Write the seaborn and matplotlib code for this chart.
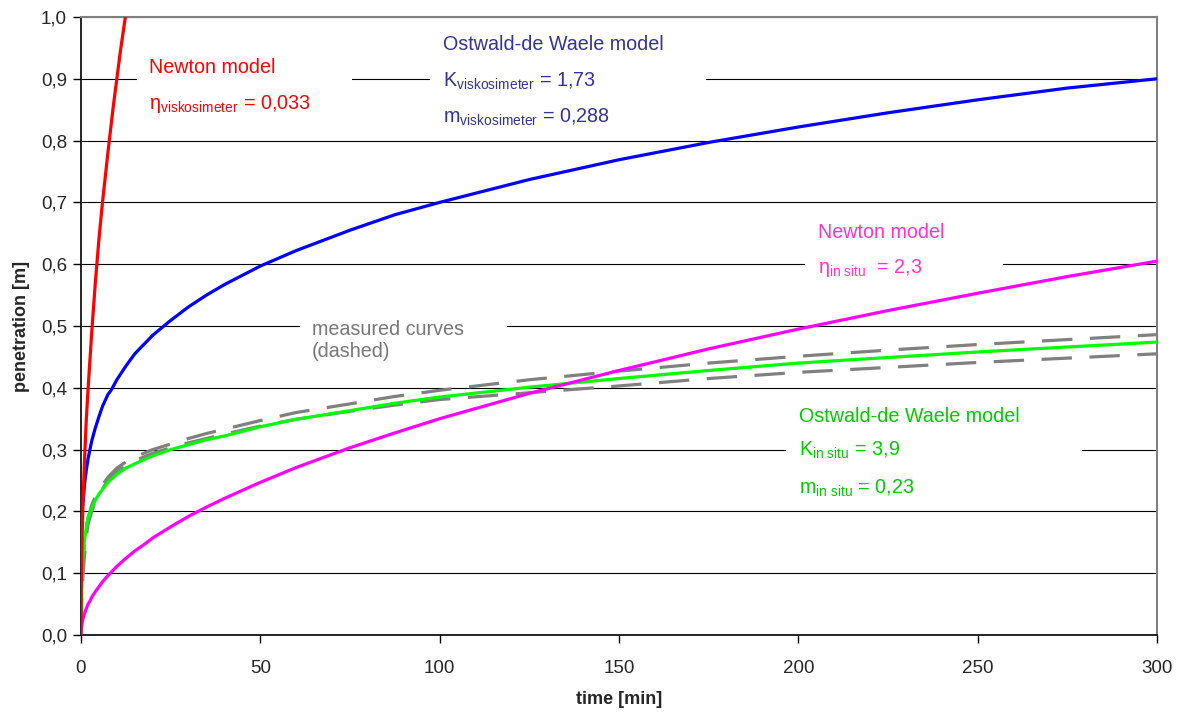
import pandas as pd
import matplotlib
matplotlib.use('Agg')
import matplotlib.pyplot as plt
from matplotlib.patches import Rectangle
from matplotlib.ticker import FuncFormatter
import seaborn as sns

# values
t_newton_visko = [0, 0.05, 0.1, 0.3, 0.6, 1, 1.5, 2, 3, 4, 5, 6, 7.5, 9, 10, 11, 12.5, 13]
y_newton_visko = [0, 0.065, 0.09, 0.155, 0.22, 0.285, 0.35, 0.40, 0.49, 0.57, 0.64, 0.70, 0.78, 0.855,
                  0.90, 0.945, 1.005, 1.03]

t_ostwald_visko = [0.5, 1, 1.5, 2, 2.5, 3, 4, 5, 6, 7.5, 8.5, 10, 12.5, 15, 17.5, 20, 25, 30, 35, 40, 50,
                   60, 75, 87.5, 100, 125, 150, 175, 200, 225, 250, 275, 300]
y_ostwald_visko = [0.21, 0.244, 0.267, 0.286, 0.300, 0.314, 0.335, 0.353, 0.370, 0.389, 0.397, 0.413,
                   0.435, 0.455, 0.470, 0.485, 0.509, 0.531, 0.550, 0.567, 0.597, 0.622, 0.655, 0.680,
                   0.700, 0.737, 0.769, 0.797, 0.822, 0.845, 0.866, 0.885, 0.900]

t_newton_situ = [0, 0.02, 0.1, 0.25, 0.5, 1, 1.5, 2, 2.5, 3, 4, 5, 6, 7.5, 10, 12.5, 15, 17.5, 20, 25, 30,
                 35, 40, 50, 60, 75, 87.5, 100, 125, 150, 175, 200, 225, 250, 275, 300]
y_newton_situ = [0, 0.005, 0.011, 0.017, 0.025, 0.035, 0.043, 0.05, 0.055, 0.061, 0.07, 0.078, 0.086,
                 0.096, 0.111, 0.124, 0.136, 0.146, 0.157, 0.175, 0.192, 0.207, 0.221, 0.247, 0.271,
                 0.303, 0.327, 0.35, 0.391, 0.428, 0.463, 0.495, 0.525, 0.553, 0.58, 0.605]

t_meas = [0.05, 0.1, 0.3, 0.6, 1, 1.5, 2, 3, 4, 5, 7.5, 10, 12.5, 15, 20, 25, 30, 35, 40, 50, 60, 75,
          87.5, 100, 125, 150, 175, 200, 225, 250, 275, 300]
y_ostwald_situ = [0.03, 0.06, 0.10, 0.13, 0.155, 0.175, 0.19, 0.205, 0.218, 0.228, 0.247, 0.26, 0.27,
                  0.277, 0.29, 0.30, 0.308, 0.316, 0.322, 0.337, 0.349, 0.363, 0.375, 0.385, 0.401,
                  0.415, 0.428, 0.44, 0.449, 0.458, 0.466, 0.474]
y_meas_upper = [0.02, 0.05, 0.09, 0.12, 0.15, 0.175, 0.19, 0.21, 0.224, 0.235, 0.255, 0.27, 0.28, 0.288,
                0.30, 0.309, 0.318, 0.326, 0.333, 0.347, 0.360, 0.374, 0.386, 0.396, 0.413, 0.427,
                0.440, 0.451, 0.461, 0.470, 0.478, 0.486]
y_meas_lower = [0.01, 0.03, 0.07, 0.10, 0.13, 0.16, 0.18, 0.20, 0.216, 0.228, 0.25, 0.265, 0.274, 0.282,
                0.294, 0.303, 0.311, 0.318, 0.325, 0.338, 0.349, 0.362, 0.372, 0.381, 0.392, 0.403,
                0.415, 0.425, 0.433, 0.441, 0.448, 0.455]

x_ticks = [0, 50, 100, 150, 200, 250, 300]
y_ticks = [0.0, 0.1, 0.2, 0.3, 0.4, 0.5, 0.6, 0.7, 0.8, 0.9, 1.0]

sns.set_style('white')
plt.rcParams['font.family'] = ['Liberation Sans', 'DejaVu Sans']
plt.rcParams['mathtext.fontset'] = 'custom'
plt.rcParams['mathtext.rm'] = 'Liberation Sans'
plt.rcParams['mathtext.it'] = 'Liberation Sans:italic'
plt.rcParams['mathtext.bf'] = 'Liberation Sans:bold'

fig = plt.figure(figsize=(11.82, 7.13), dpi=100)
ax = fig.add_axes([0.0685, 0.1094, 0.9105, 0.8668])

lw = 2.3
sns.lineplot(x=t_meas, y=y_meas_upper, ax=ax, color='#808080', lw=lw, sort=False, zorder=3)
ax.lines[-1].set_dashes([9.5, 5.5])
sns.lineplot(x=t_meas, y=y_meas_lower, ax=ax, color='#808080', lw=lw, sort=False, zorder=3)
ax.lines[-1].set_dashes([9.5, 5.5])
sns.lineplot(x=t_meas, y=y_ostwald_situ, ax=ax, color='#00FF00', lw=lw, sort=False, zorder=4)
sns.lineplot(x=t_newton_situ, y=y_newton_situ, ax=ax, color='#FF00FF', lw=lw, sort=False, zorder=4)
sns.lineplot(x=t_ostwald_visko, y=y_ostwald_visko, ax=ax, color='#0000FF', lw=lw, sort=False, zorder=4)
sns.lineplot(x=t_newton_visko, y=y_newton_visko, ax=ax, color='#FF0000', lw=lw, sort=False, zorder=4)

ax.set_xlim(0, 300)
ax.set_ylim(0, 1.0)
ax.set_xticks(x_ticks)
ax.set_yticks(y_ticks)
ax.yaxis.set_major_formatter(FuncFormatter(lambda v, p: f'{v:.1f}'.replace('.', ',')))
ax.tick_params(axis='both', direction='out', length=6, width=1, color='black',
               labelsize=13.5, pad=4, left=True, bottom=True)
ax.tick_params(axis='x', pad=12)
ax.yaxis.grid(True, color='black', lw=0.8, zorder=0)
ax.set_axisbelow(True)

for s in ['left', 'bottom']:
    ax.spines[s].set_color('black')
    ax.spines[s].set_linewidth(1.2)
for s in ['top', 'right']:
    ax.spines[s].set_color('#808080')
    ax.spines[s].set_linewidth(1.5)

ax.set_xlabel('time [min]', fontsize=13, fontweight='bold', labelpad=10)
ax.set_ylabel('penetration [m]', fontsize=13, fontweight='bold', labelpad=8)

# white label boxes that break the grid lines
boxes = [(15.6, 0.84, 59.9, 0.10), (97.3, 0.82, 76.9, 0.16), (201.8, 0.571, 55.2, 0.104),
         (61.1, 0.442, 57.7, 0.076), (196.5, 0.214, 82.6, 0.163)]
for bx, by, bw, bh in boxes:
    ax.add_patch(Rectangle((bx, by), bw, bh, facecolor='white', edgecolor='none', zorder=1.5))

fs = 14.2
red, blue, mag, grn, gry = '#FF0000', '#333399', '#FF33CC', '#00CC00', '#777777'
ax.text(19.0, 0.919, 'Newton model', color=red, fontsize=fs, va='center', zorder=5)
ax.text(19.0, 0.859, 'η$_{\\mathrm{viskosimeter}}$ = 0,033', color=red, fontsize=fs, va='center', zorder=5)

ax.text(100.8, 0.956, 'Ostwald-de Waele model', color=blue, fontsize=fs, va='center', zorder=5)
ax.text(100.8, 0.896, 'K$_{\\mathrm{viskosimeter}}$ = 1,73', color=blue, fontsize=fs, va='center', zorder=5)
ax.text(100.8, 0.838, 'm$_{\\mathrm{viskosimeter}}$ = 0,288', color=blue, fontsize=fs, va='center', zorder=5)

ax.text(205.5, 0.652, 'Newton model', color=mag, fontsize=fs, va='center', zorder=5)
ax.text(205.5, 0.594, 'η$_{\\mathrm{in\\ situ}}$  = 2,3', color=mag, fontsize=fs, va='center', zorder=5)

ax.text(64.4, 0.495, 'measured curves', color=gry, fontsize=fs, va='center', zorder=5)
ax.text(64.4, 0.458, '(dashed)', color=gry, fontsize=fs, va='center', zorder=5)

ax.text(200.2, 0.353, 'Ostwald-de Waele model', color=grn, fontsize=fs, va='center', zorder=5)
ax.text(200.2, 0.298, 'K$_{\\mathrm{in\\ situ}}$ = 3,9', color=grn, fontsize=fs, va='center', zorder=5)
ax.text(200.2, 0.238, 'm$_{\\mathrm{in\\ situ}}$ = 0,23', color=grn, fontsize=fs, va='center', zorder=5)

fig.savefig('out.png', dpi=100)
